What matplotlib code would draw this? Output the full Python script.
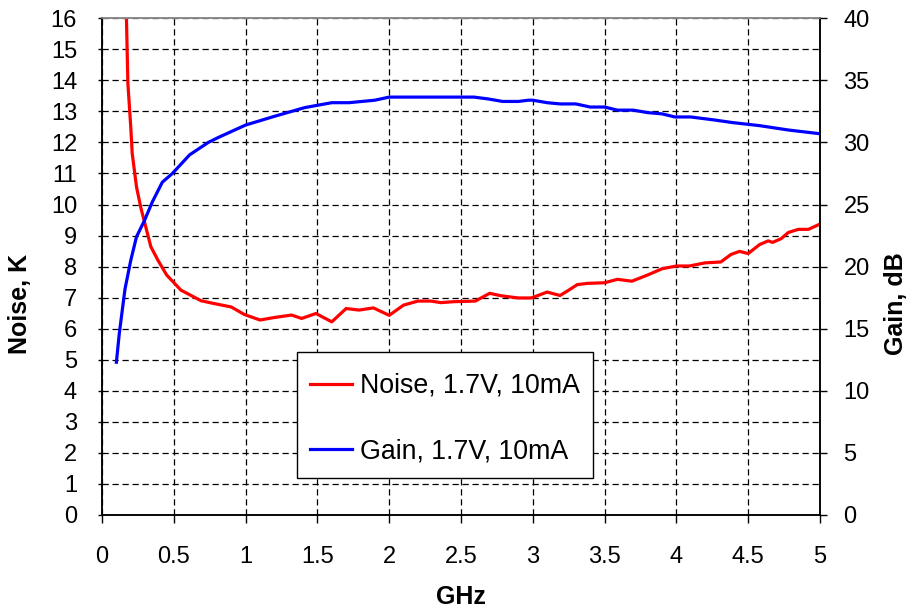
import matplotlib
matplotlib.use("Agg")
import matplotlib.pyplot as plt
from matplotlib.patches import Rectangle

plt.rcParams['font.family'] = ['Liberation Sans', 'DejaVu Sans']

noise_x = [0.17, 0.18, 0.20, 0.21, 0.24, 0.27, 0.31, 0.34, 0.39, 0.45, 0.55, 0.69, 0.78, 0.90,
           0.99, 1.10, 1.20, 1.32, 1.39, 1.49, 1.60, 1.70, 1.79, 1.89, 2.00, 2.10, 2.20, 2.29,
           2.36, 2.45, 2.60, 2.70, 2.78, 2.90, 2.99, 3.10, 3.19, 3.25, 3.31, 3.38, 3.50, 3.59,
           3.69, 3.80, 3.90, 4.00, 4.09, 4.20, 4.31, 4.38, 4.44, 4.50, 4.58, 4.64, 4.67, 4.73,
           4.78, 4.85, 4.92, 5.00]
noise_k = [16.0, 13.9, 12.5, 11.65, 10.57, 9.9, 9.18, 8.64, 8.2, 7.73, 7.24, 6.9, 6.81, 6.7,
           6.46, 6.28, 6.36, 6.44, 6.33, 6.49, 6.22, 6.65, 6.6, 6.67, 6.43, 6.76, 6.89, 6.89,
           6.84, 6.87, 6.89, 7.14, 7.06, 6.99, 6.99, 7.18, 7.07, 7.24, 7.42, 7.46, 7.48, 7.59,
           7.53, 7.73, 7.93, 8.02, 8.02, 8.12, 8.15, 8.39, 8.49, 8.42, 8.71, 8.83, 8.78, 8.9,
           9.1, 9.2, 9.2, 9.37]

gain_x = [0.10, 0.12, 0.16, 0.20, 0.24, 0.295, 0.35, 0.42, 0.49, 0.61, 0.74, 0.81, 1.00, 1.20,
          1.41, 1.60, 1.72, 1.90, 2.00, 2.59, 2.69, 2.79, 2.90, 2.97, 3.00, 3.10, 3.19, 3.30,
          3.40, 3.50, 3.59, 3.70, 3.80, 3.90, 3.99, 4.10, 4.27, 4.39, 4.58, 4.78, 5.00]
gain_db = [12.3, 14.6, 18.2, 20.5, 22.4, 23.7, 25.2, 26.8, 27.5, 29.0, 30.0, 30.4, 31.4, 32.1,
           32.8, 33.2, 33.2, 33.4, 33.65, 33.65, 33.5, 33.3, 33.3, 33.4, 33.4, 33.2, 33.1, 33.1,
           32.85, 32.85, 32.6, 32.6, 32.4, 32.3, 32.05, 32.05, 31.8, 31.6, 31.35, 31.0, 30.7]

x_ticks = [0, 0.5, 1, 1.5, 2, 2.5, 3, 3.5, 4, 4.5, 5]
x_labels = ['0', '0.5', '1', '1.5', '2', '2.5', '3', '3.5', '4', '4.5', '5']
noise_ticks = list(range(0, 17))
gain_ticks = list(range(0, 41, 5))

fig = plt.figure(figsize=(9.07, 6.08), dpi=100)
ax = fig.add_axes([0.1125, 0.153, 0.7915, 0.817])
ax2 = ax.twinx()

l1, = ax.plot(noise_x, noise_k, color='#ff0000', lw=2.3, label='Noise, 1.7V, 10mA')
l2, = ax2.plot(gain_x, gain_db, color='#0000ff', lw=2.3, label='Gain, 1.7V, 10mA')

ax.set_xlim(0, 5)
ax.set_ylim(0, 16)
ax2.set_ylim(0, 40)
ax.set_xticks(x_ticks)
ax.set_xticklabels(x_labels)
ax.set_yticks(noise_ticks)
ax2.set_yticks(gain_ticks)

ax.grid(True, color='black', linestyle=(0, (5, 3)), lw=0.9)
ax.set_axisbelow(True)

ax.tick_params(axis='x', direction='out', length=6, width=1, pad=16, labelsize=17)
ax.tick_params(axis='y', direction='out', length=3, width=1, pad=15, labelsize=17)
ax2.tick_params(axis='y', direction='out', length=5, width=1, pad=12, labelsize=17)

for a in (ax, ax2):
    for s in a.spines.values():
        s.set_color('black')
        s.set_linewidth(1.1)
ax.spines['top'].set_color('#888888')
ax2.spines['top'].set_color('#888888')

fig.text(0.022, 0.5, 'Noise, K', rotation=90, ha='center', va='center',
         fontsize=18, fontweight='bold')
fig.text(0.988, 0.5, 'Gain, dB', rotation=90, ha='center', va='center',
         fontsize=18, fontweight='bold')
fig.text(0.508, 0.018, 'GHz', ha='center', va='center', fontsize=18, fontweight='bold')

# legend frame
frame = Rectangle((0.2716, 0.0745), 0.4125, 0.2535, transform=ax2.transAxes,
                  facecolor='white', edgecolor='black', lw=1.0, zorder=4)
ax2.add_patch(frame)
leg = ax2.legend(handles=[l1, l2], loc='upper left', bbox_to_anchor=(0.2897, 0.286),
                 fontsize=19.3, frameon=False, handlelength=1.55, handletextpad=0.3,
                 labelspacing=1.48, borderpad=0, borderaxespad=0)
leg.set_zorder(5)

fig.savefig('out.png', dpi=100)
